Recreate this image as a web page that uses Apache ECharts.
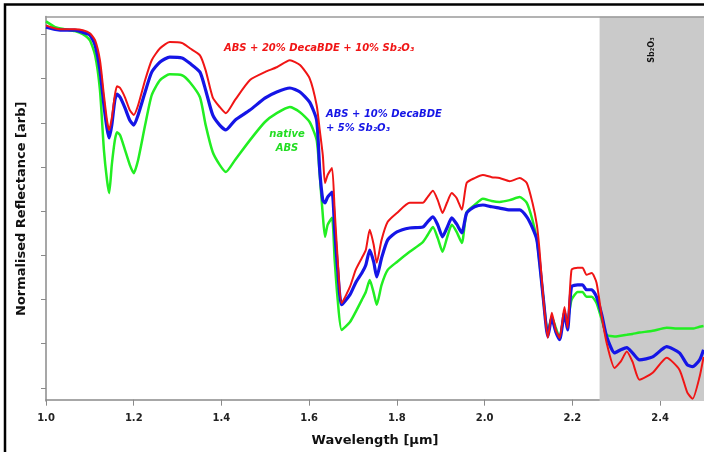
<!DOCTYPE html>
<html>
<head>
<meta charset="utf-8">
<script src="https://cdn.jsdelivr.net/npm/echarts@6/dist/echarts.min.js"></script>
<style>html,body{margin:0;padding:0;background:#fff;}#c{width:704px;height:452px;}</style>
</head>
<body>
<div id="c"></div>
<script>
const wavelength = [1.000,1.021,1.043,1.066,1.084,1.100,1.112,1.123,1.132,1.139,1.144,1.150,1.157,1.162,1.169,1.180,1.191,1.200,1.210,1.226,1.241,1.260,1.282,1.310,1.328,1.351,1.364,1.380,1.396,1.410,1.431,1.465,1.499,1.526,1.556,1.579,1.601,1.617,1.624,1.631,1.636,1.642,1.652,1.658,1.665,1.674,1.693,1.706,1.720,1.729,1.738,1.747,1.754,1.765,1.779,1.800,1.829,1.859,1.870,1.882,1.893,1.904,1.914,1.925,1.936,1.948,1.959,1.977,1.996,2.016,2.034,2.057,2.080,2.096,2.109,2.119,2.125,2.134,2.144,2.153,2.162,2.171,2.182,2.189,2.198,2.212,2.223,2.232,2.244,2.255,2.267,2.278,2.296,2.310,2.324,2.337,2.353,2.383,2.415,2.444,2.462,2.474,2.490,2.499];

const absDeca20 = [0.848,0.841,0.839,0.839,0.837,0.830,0.814,0.769,0.690,0.633,
0.611,0.638,0.690,0.710,0.706,0.685,0.656,0.645,0.667,0.724,
0.769,0.796,0.810,0.808,0.796,0.780,0.746,0.685,0.663,0.649,
0.679,0.724,0.742,0.753,0.769,0.758,0.728,0.667,0.611,0.554,
0.491,0.509,0.525,0.430,0.317,0.219,0.256,0.294,0.321,0.339,
0.385,0.351,0.310,0.362,0.403,0.423,0.446,0.446,0.459,0.473,
0.452,0.423,0.446,0.468,0.457,0.430,0.491,0.502,0.509,0.504,
0.502,0.495,0.502,0.491,0.446,0.396,0.339,0.226,0.140,0.197,
0.158,0.140,0.210,0.163,0.294,0.299,0.299,0.283,0.287,0.265,
0.188,0.129,0.072,0.086,0.109,0.086,0.045,0.061,0.095,0.068,
0.016,0.002,0.052,0.097];

const absDeca10 = [0.844,0.839,0.837,0.837,0.832,0.826,0.803,0.746,0.667,0.615,
0.593,0.622,0.679,0.692,0.685,0.661,0.633,0.622,0.645,0.697,
0.742,0.765,0.776,0.774,0.762,0.742,0.701,0.645,0.622,0.611,
0.633,0.656,0.683,0.697,0.706,0.697,0.674,0.633,0.520,0.452,
0.446,0.459,0.470,0.385,0.294,0.215,0.238,0.265,0.287,0.305,
0.339,0.312,0.278,0.321,0.362,0.380,0.389,0.391,0.403,0.414,
0.396,0.369,0.389,0.412,0.398,0.378,0.423,0.437,0.441,0.437,
0.434,0.430,0.430,0.414,0.389,0.362,0.312,0.226,0.143,0.185,
0.154,0.136,0.197,0.158,0.256,0.260,0.260,0.249,0.249,0.233,
0.192,0.143,0.106,0.113,0.118,0.106,0.090,0.097,0.120,0.106,
0.079,0.075,0.090,0.113];

const nativeAbs = [0.857,0.844,0.839,0.835,0.828,0.814,0.780,0.701,0.566,0.498,
0.468,0.532,0.588,0.606,0.599,0.566,0.532,0.513,0.543,0.622,
0.690,0.724,0.737,0.735,0.719,0.685,0.622,0.561,0.532,0.516,
0.543,0.588,0.629,0.649,0.663,0.651,0.629,0.588,0.509,0.418,
0.369,0.396,0.412,0.317,0.226,0.158,0.176,0.199,0.226,0.244,
0.271,0.242,0.215,0.260,0.294,0.312,0.335,0.357,0.373,0.391,
0.366,0.335,0.366,0.396,0.380,0.355,0.425,0.441,0.455,0.450,
0.448,0.452,0.459,0.446,0.407,0.362,0.312,0.226,0.152,0.188,
0.163,0.140,0.192,0.181,0.226,0.244,0.244,0.233,0.233,0.219,
0.181,0.147,0.143,0.145,0.147,0.149,0.152,0.156,0.163,0.161,
0.161,0.161,0.165,0.167];

const yTicks = [0.027,0.127,0.227,0.327,0.427,0.527,0.627,0.727,0.827];
const sbRegion = [2.262, 2.5];

const pair = arr => wavelength.map((w, i) => [w, arr[i]]);
const FONT = 'DejaVu Sans';

const chart = echarts.init(document.getElementById('c'), null, {renderer: 'canvas'});
chart.setOption({
  animation: false,
  backgroundColor: '#ffffff',
  grid: {left: 46, top: 16.5, right: 0, bottom: 50.5, containLabel: false},
  xAxis: [{
    type: 'value', min: 1.0, max: 2.5, interval: 0.2,
    name: 'Wavelength [µm]', nameLocation: 'middle', nameGap: 33,
    nameTextStyle: {fontFamily: FONT, fontWeight: 'bold', fontSize: 13, color: '#111'},
    axisLine: {lineStyle: {color: '#8a8a8a', width: 1.5}},
    axisTick: {show: true, length: 6, lineStyle: {color: '#8a8a8a'}},
    axisLabel: {fontFamily: FONT, fontWeight: 'bold', fontSize: 10, color: '#222', margin: 12,
      showMaxLabel: false, formatter: v => v.toFixed(1)},
    splitLine: {show: false}
  }, {
    type: 'value', min: 1.0, max: 2.5, position: 'top', z: 10,
    axisLine: {show: true, lineStyle: {color: '#9a9a9a', width: 1.5}},
    axisTick: {show: false}, axisLabel: {show: false}, splitLine: {show: false}
  }],
  yAxis: {
    type: 'value', min: -0.003, max: 0.868,
    name: 'Normalised Reflectance [arb]', nameLocation: 'middle', nameGap: 18,
    nameTextStyle: {fontFamily: FONT, fontWeight: 'bold', fontSize: 13, color: '#111'},
    axisLine: {show: true, lineStyle: {color: '#8a8a8a', width: 1.5}},
    axisTick: {show: true, length: 5, customValues: yTicks, lineStyle: {color: '#8a8a8a'}},
    axisLabel: {show: false},
    splitLine: {show: false}
  },
  series: [
    {
      name: 'native ABS', type: 'line', data: pair(nativeAbs), showSymbol: false, smooth: 0.2,
      lineStyle: {color: '#22ee22', width: 2.5}, z: 3,
      markArea: {silent: true, itemStyle: {color: '#cacaca'},
        data: [[{xAxis: sbRegion[0]}, {xAxis: sbRegion[1]}]]}
    },
    {
      name: 'ABS + 10% DecaBDE + 5% Sb2O3', type: 'line', data: pair(absDeca10), showSymbol: false, smooth: 0.2,
      lineStyle: {color: '#1515e6', width: 3.2}, z: 4
    },
    {
      name: 'ABS + 20% DecaBDE + 10% Sb2O3', type: 'line', data: pair(absDeca20), showSymbol: false, smooth: 0.2,
      lineStyle: {color: '#f01515', width: 2}, z: 5
    }
  ],
  graphic: [
    {type: 'text', left: 224, top: 43, z: 20, style: {text: 'ABS + 20% DecaBDE + 10% Sb₂O₃',
      fill: '#f01515', font: 'italic bold 10px "DejaVu Sans"'}},
    {type: 'text', left: 326, top: 107, z: 20, style: {text: 'ABS + 10% DecaBDE\n+ 5% Sb₂O₃',
      fill: '#1515e6', font: 'italic bold 10px "DejaVu Sans"', lineHeight: 14}},
    {type: 'text', x: 287, y: 127, z: 20, style: {text: 'native\nABS', align: 'center',
      fill: '#22dd22', font: 'italic bold 10px "DejaVu Sans"', lineHeight: 14}},
    {type: 'text', x: 652, y: 50, rotation: Math.PI / 2, z: 20, style: {text: 'Sb₂O₃', align: 'center', verticalAlign: 'middle',
      fill: '#111', font: 'bold 8px "DejaVu Sans"'}},
    {type: 'polyline', shape: {points: [[5, 470], [5, 4.5], [720, 4.5]]}, z: 30,
      style: {fill: null, stroke: '#000', lineWidth: 2.5}}
  ]
});
</script>
</body>
</html>
